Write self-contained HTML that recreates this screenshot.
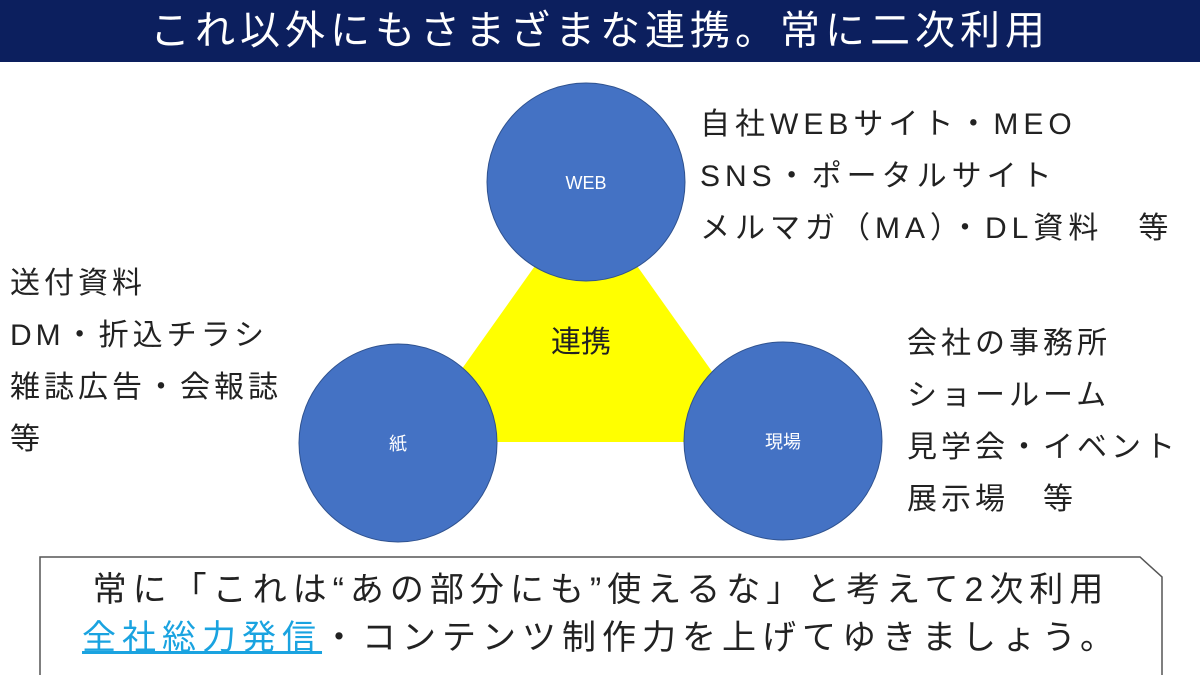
<!DOCTYPE html>
<html><head><meta charset="utf-8"><style>
body{margin:0;width:1200px;height:675px;overflow:hidden;background:#fff;font-family:"Liberation Sans","Noto Sans CJK JP",sans-serif;position:relative}
.hdr{position:absolute;left:0;top:0;width:1200px;height:62px;background:#0c1f5e;color:#fff;font-size:40px;text-align:center;line-height:62px;letter-spacing:5px}
.t{position:absolute;color:#222;font-size:30px;line-height:52px;white-space:nowrap;letter-spacing:4.5px}
</style></head><body>
<div class="hdr">これ以外にもさまざまな連携。常に二次利用</div>
<svg width="1200" height="675" style="position:absolute;left:0;top:0">
<polygon points="586,194 410,442 762,442" fill="#ffff00"/>
<circle cx="586" cy="182" r="99" fill="#4472c4" stroke="#2f528f" stroke-width="1"/>
<circle cx="398" cy="443" r="99" fill="#4472c4" stroke="#2f528f" stroke-width="1"/>
<circle cx="783" cy="441" r="99" fill="#4472c4" stroke="#2f528f" stroke-width="1"/>
<text x="586" y="189" fill="#fff" font-size="18" text-anchor="middle" font-family="Liberation Sans,Noto Sans CJK JP,sans-serif">WEB</text>
<text x="398" y="450" fill="#fff" font-size="18" text-anchor="middle" font-family="Liberation Sans,Noto Sans CJK JP,sans-serif">紙</text>
<text x="783" y="448" fill="#fff" font-size="18" text-anchor="middle" font-family="Liberation Sans,Noto Sans CJK JP,sans-serif">現場</text>
<text x="581" y="352" fill="#222" font-size="30" text-anchor="middle" font-family="Liberation Sans,Noto Sans CJK JP,sans-serif">連携</text>
<polygon points="40,557 1140,557 1162,577 1162,680 40,680" fill="#fff" stroke="#555" stroke-width="1.5"/>
</svg>
<div class="t" style="left:700px;top:99px;letter-spacing:5px">自社WEBサイト・MEO<br>SNS・ポータルサイト<br>メルマガ（MA）・DL資料　等</div>
<div class="t" style="left:10px;top:258px;letter-spacing:4px">送付資料<br>DM・折込チラシ<br>雑誌広告・会報誌<br>等</div>
<div class="t" style="left:907px;top:318px;letter-spacing:4px">会社の事務所<br>ショールーム<br>見学会・イベント<br>展示場　等</div>
<div class="t" style="left:40px;width:1122px;top:566px;text-align:center;font-size:34px;line-height:48px;letter-spacing:6px">常に「これは“あの部分にも”使えるな」と考えて2次利用<br><span style="color:#1aa3e0;text-decoration:underline">全社総力発信</span>・コンテンツ制作力を上げてゆきましょう。</div>
</body></html>
